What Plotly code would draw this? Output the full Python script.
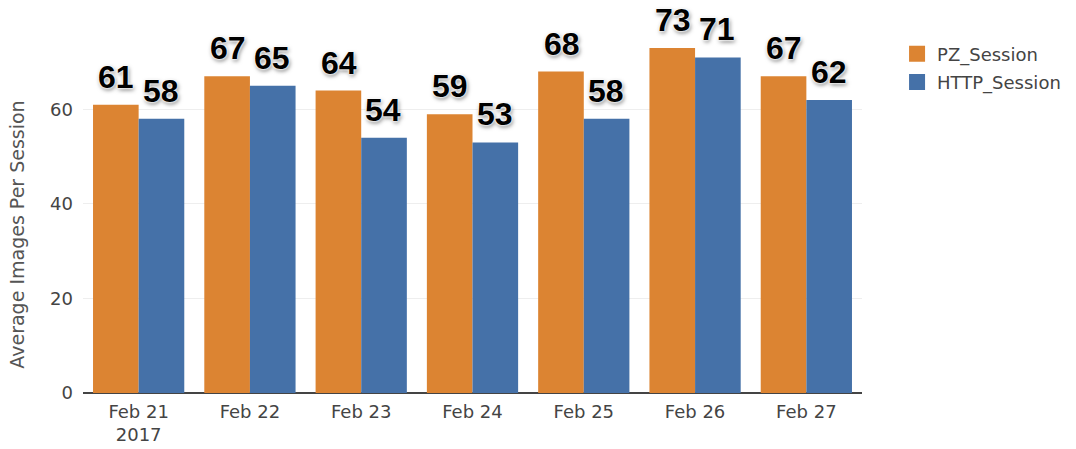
import plotly.graph_objects as go
import datetime as _dt

dates = ["2017-02-21", "2017-02-22", "2017-02-23", "2017-02-24", "2017-02-25", "2017-02-26", "2017-02-27"]
pz_session = [61, 67, 64, 59, 68, 73, 67]
http_session = [58, 65, 54, 53, 58, 71, 62]
y_ticks = [0, 20, 40, 60]
series = [("PZ_Session", pz_session, "#DC8432"), ("HTTP_Session", http_session, "#4571A8")]

label_font = dict(family="Liberation Sans, Arial, sans-serif", size=32, color="#000000", weight="bold",
                  shadow="0 0 2px #fff, 0 0 2px #fff, 0 0 3px #fff, 1px 2px 4px rgba(0,0,0,0.55)")

fig = go.Figure()
for i, (name, vals, color) in enumerate(series):
    fig.add_trace(go.Bar(x=dates, y=vals, name=name, marker_color=color, marker_line_width=0,
                         offsetgroup=str(i), showlegend=False))
    # legend proxy with larger square swatch
    fig.add_trace(go.Scatter(x=[None], y=[None], mode="markers", name=name, legendgroup=name,
                             marker=dict(symbol="square", size=17, color=color)))

fig.update_layout(
    width=1076, height=449,
    margin=dict(l=83, r=214, t=30, b=56, autoexpand=False),
    paper_bgcolor="white", plot_bgcolor="white",
    barmode="group", bargap=0.18,
    font=dict(family="DejaVu Sans, Verdana, sans-serif", size=18, color="#444"),
    legend=dict(x=1.045, y=0.985, xanchor="left", yanchor="top", font=dict(size=18),
                tracegroupgap=2),
    xaxis=dict(type="date", dtick=86400000, showgrid=False, automargin=False,
               range=["2017-02-20 12:00", "2017-02-27 12:00"], ticks="",
               tickfont=dict(size=18), ticklabelstandoff=6),
    yaxis=dict(range=[0, 76.8], tickvals=y_ticks, gridcolor="#eeeeee", automargin=False,
               zeroline=True, zerolinecolor="#444", zerolinewidth=1.5,
               tickfont=dict(size=18), ticklabelstandoff=9),
)

# value labels above the bars (positioned by data coordinates)
bar_offsets = {0: -0.2, 1: 0.2}
for i, (name, vals, color) in enumerate(series):
    for d, v in zip(dates, vals):
        xd = _dt.datetime.fromisoformat(d) + _dt.timedelta(days=bar_offsets[i])
        fig.add_annotation(x=xd, y=v, text=str(v), showarrow=False, yanchor="bottom",
                           yshift=8, font=label_font)

fig.add_annotation(x=-0.084, y=0.435, xref="paper", yref="paper", xanchor="center", yanchor="middle",
                   text="Average Images Per Session", textangle=-90, showarrow=False,
                   font=dict(size=19, color="#555"))

fig.write_html("out.html")
